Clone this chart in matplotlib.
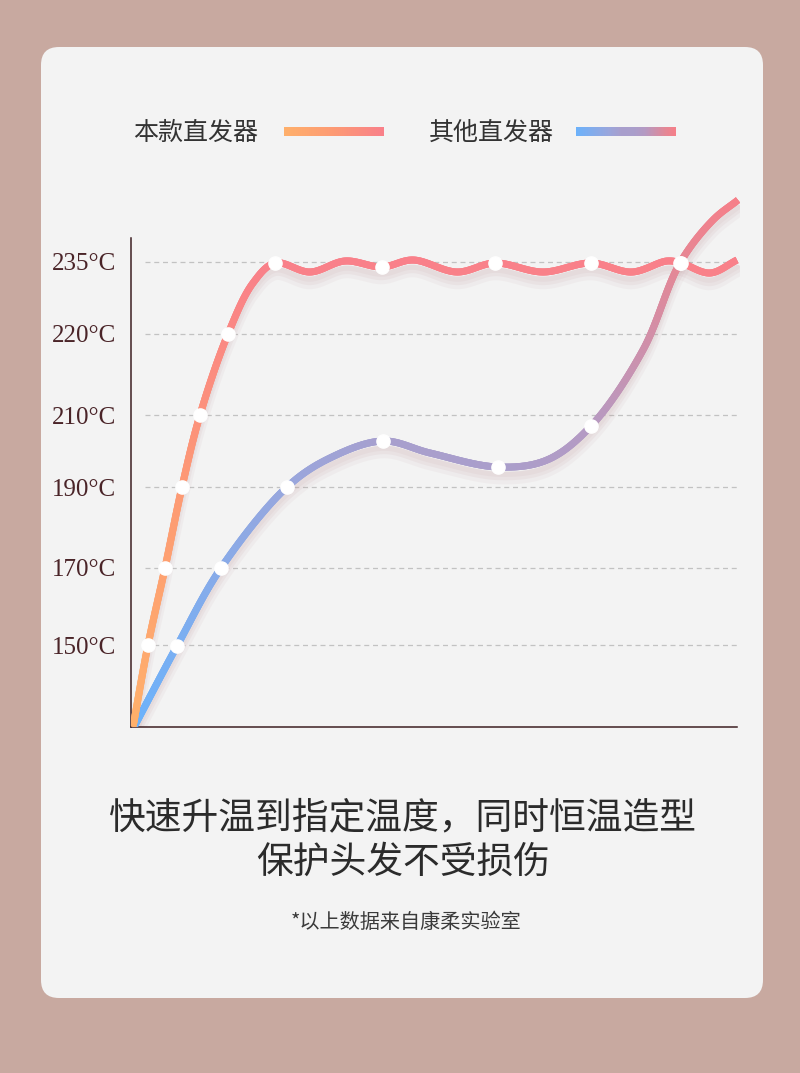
"""
Heat-up curve comparison: this straightener vs other straighteners.
"""
import numpy as np
import matplotlib
matplotlib.use("Agg")
import matplotlib.pyplot as plt
from matplotlib.collections import LineCollection
from matplotlib.colors import LinearSegmentedColormap
from matplotlib.patches import FancyBboxPatch
from matplotlib import transforms

plt.rcParams["font.family"] = ["Noto Sans CJK SC", "DejaVu Sans"]

# y axis: temperature labels and their level on the chart
tick_labels = ["150°C", "170°C", "190°C", "210°C", "220°C", "235°C"]
tick_levels = [82, 159, 240, 312, 393, 465]

# 本款直发器: curve points (time, level) and which ones carry a dot
ours_x = [2, 17, 34, 51, 69, 97, 122, 144, 179, 214, 251, 282, 326, 364,
          412, 460, 501, 536, 550, 579, 606]
ours_y = [0, 82, 159, 240, 312, 393, 444, 464, 455, 466, 460, 467, 455, 464,
          455, 464, 455, 466, 464, 454, 467]
ours_dots = [1, 2, 3, 4, 5, 7, 10, 13, 15, 18]

# 其他直发器
other_x = [3, 46, 90, 156, 199, 252, 299, 367, 416, 460, 512, 549,
           582, 607]
other_y = [0, 81, 159, 240, 269, 286, 274, 260, 267, 301, 377, 464,
           507, 527]
other_dots = [1, 2, 3, 5, 7, 9, 11]

legend_names = ["本款直发器", "其他直发器"]
title_lines = ["快速升温到指定温度，同时恒温造型", "保护头发不受损伤"]
footnote = "*以上数据来自康柔实验室"

ours_cmap = LinearSegmentedColormap.from_list(
    "ours", ["#ffb06b", "#fd9a74", "#f9808a"])
other_cmap = LinearSegmentedColormap.from_list(
    "other",
    [(0.0, "#6cb2fb"), (0.33, "#9aa6dc"), (0.45, "#a89fcd"),
     (0.58, "#aa9ecb"), (0.69, "#b59ac3"), (0.9, "#e58795"),
     (1.0, "#f67f89")])


def smooth(xs, ys, n=40):
    """Centripetal Catmull-Rom through the given points, for drawing."""
    p = np.column_stack([xs, ys]).astype(float)
    p = np.vstack([2 * p[0] - p[1], p, 2 * p[-1] - p[-2]])
    out = []
    for i in range(1, len(p) - 2):
        p0, p1, p2, p3 = p[i - 1], p[i], p[i + 1], p[i + 2]
        t0 = 0.0
        t1 = t0 + np.linalg.norm(p1 - p0) ** 0.5
        t2 = t1 + np.linalg.norm(p2 - p1) ** 0.5
        t3 = t2 + np.linalg.norm(p3 - p2) ** 0.5
        t = np.linspace(t1, t2, n, endpoint=False)[:, None]
        a1 = (t1 - t) / (t1 - t0) * p0 + (t - t0) / (t1 - t0) * p1
        a2 = (t2 - t) / (t2 - t1) * p1 + (t - t1) / (t2 - t1) * p2
        a3 = (t3 - t) / (t3 - t2) * p2 + (t - t2) / (t3 - t2) * p3
        b1 = (t2 - t) / (t2 - t0) * a1 + (t - t0) / (t2 - t0) * a2
        b2 = (t3 - t) / (t3 - t1) * a2 + (t - t1) / (t3 - t1) * a3
        out.append((t2 - t) / (t2 - t1) * b1 + (t - t1) / (t2 - t1) * b2)
    out.append(p[-2][None, :])
    return np.vstack(out)


def draw_curve(ax, fig, xs, ys, dots, cmap, by_height):
    pts = smooth(xs, ys)
    # soft shadow under the line
    for dy, lw, alpha in [(-11, 9, 0.07), (-9, 6, 0.09), (-7, 4, 0.08)]:
        shadow = transforms.offset_copy(ax.transData, fig=fig, x=0, y=dy,
                                        units="dots")
        ax.plot(pts[:, 0], pts[:, 1], color="#b98a90", lw=lw, alpha=alpha,
                solid_capstyle="round", transform=shadow, zorder=2)
    # overlapping pieces so the gradient has no seams
    ends = np.minimum(np.arange(len(pts) - 1) + 3, len(pts) - 1)
    segs = [pts[i:j + 1] for i, j in zip(range(len(pts) - 1), ends)]
    if by_height:
        t = np.clip(pts[:-1, 1] / max(ys), 0, 1)
    else:
        d = np.r_[0, np.cumsum(np.hypot(*np.diff(pts, axis=0).T))]
        t = d[:-1] / d[-1]
    lc = LineCollection(segs, colors=cmap(t), linewidths=5.0,
                        capstyle="butt", joinstyle="round", zorder=3)
    ax.add_collection(lc)
    ax.plot([xs[i] for i in dots], [ys[i] for i in dots], "o",
            color="white", ms=9.5, mec="white", zorder=5)


def main():
    fig = plt.figure(figsize=(8, 10.73), dpi=100)
    fig.patch.set_facecolor("#c8a9a0")

    bg = fig.add_axes([0, 0, 1, 1], zorder=0)
    bg.axis("off")
    bg.add_patch(FancyBboxPatch((41, 47), 722, 951,
                                boxstyle="round,pad=0,rounding_size=18",
                                fc="#f3f3f3", ec="none"))

    # legend
    bg.text(133, 133, legend_names[0], fontsize=18, color="#333333",
            va="center", ha="left")
    bg.text(429, 133, legend_names[1], fontsize=18, color="#333333",
            va="center", ha="left")
    grad = np.linspace(0, 1, 256)[None, :]
    bg.imshow(ours_cmap(grad), extent=[284, 384, 136.5, 128],
              aspect="auto", zorder=2)
    bg.imshow(other_cmap(grad), extent=[576, 676, 136.5, 128],
              aspect="auto", zorder=2)
    bg.set_xlim(0, 800)
    bg.set_ylim(1073, 0)

    # bottom texts
    bg.text(403, 818, title_lines[0], fontsize=26.5, color="#2b2b2b",
            ha="center", va="center")
    bg.text(403, 862, title_lines[1], fontsize=26.5, color="#2b2b2b",
            ha="center", va="center")
    bg.text(406, 923, footnote, fontsize=14.5, color="#3a3a3a",
            ha="center", va="center")

    ax = fig.add_axes([131 / 800, 1 - 727 / 1073, 609 / 800, 537 / 1073],
                      zorder=1)
    ax.set_facecolor("none")
    ax.set_xlim(0, 609)
    ax.set_ylim(0, 537)
    ax.hlines(tick_levels, 14, 606, colors="#c2c2c2", lw=0.9,
              linestyles=(0, (4, 3)), zorder=1)

    draw_curve(ax, fig, other_x, other_y, other_dots, other_cmap, False)
    draw_curve(ax, fig, ours_x, ours_y, ours_dots, ours_cmap, True)

    for side in ["top", "right"]:
        ax.spines[side].set_visible(False)
    for side in ["left", "bottom"]:
        ax.spines[side].set_color("#3d1f22")
        ax.spines[side].set_linewidth(1.1)
    ax.spines["left"].set_bounds(0, 489)
    ax.spines["bottom"].set_bounds(0, 606)
    ax.set_xticks([])
    ax.set_yticks(tick_levels, tick_labels)
    ax.tick_params(axis="y", length=0, pad=11, labelsize=18,
                   labelcolor="#4a2428")
    for lab in ax.get_yticklabels():
        lab.set_family("Liberation Serif")

    plt.savefig("out.png", dpi=100, facecolor=fig.get_facecolor())


if __name__ == "__main__":
    main()
